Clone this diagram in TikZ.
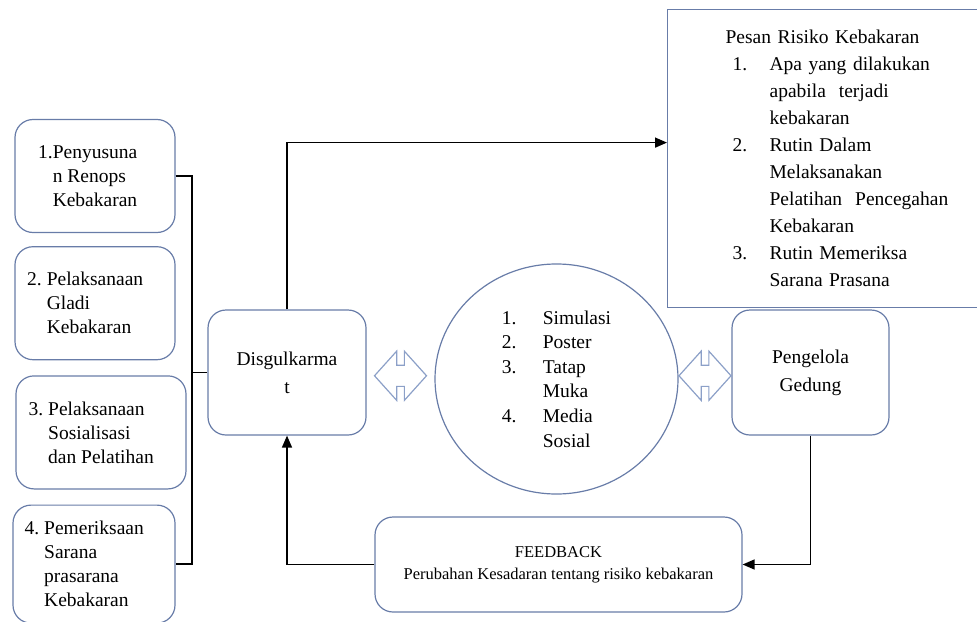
\documentclass[tikz,border=0pt]{standalone}
\usepackage{fontspec}
\setmainfont{Liberation Serif}
\usetikzlibrary{arrows.meta,positioning,calc,shapes.geometric,shapes.arrows}

\definecolor{garis}{RGB}{104,124,168}
\definecolor{panahbiru}{RGB}{140,160,200}
\newcommand{\teks}{\fontsize{19.5}{24}\selectfont}
\newcommand{\nomor}[2]{\makebox[#1][l]{#2}}

\begin{document}
\begin{tikzpicture}[x=1pt,y=-1pt,->,>={Triangle[length=12pt,width=10pt]},line width=1.5pt]
  \tikzstyle{langkah}=[draw=garis,line width=1.2pt,rounded corners=18pt,align=left,font=\teks,minimum width=160pt,minimum height=113pt]
  \tikzstyle{pelaku}=[langkah,align=center,font=\fontsize{19.5}{28}\selectfont,minimum width=158pt,minimum height=125pt]
  \tikzstyle{panah}=[double arrow,draw=panahbiru,fill=white,line width=1.2pt,minimum width=48pt,minimum height=52pt,double arrow head extend=14pt,double arrow tip angle=96,inner xsep=4.5pt,inner ysep=10pt]

  \useasboundingbox (0,0) rectangle (977,621);

  % langkah kegiatan
  \node[langkah] (b1) at (95,176) {\llap{1.}Penyusuna\\n Renops\\Kebakaran};
  \node[langkah] (b2) [below=13pt of b1] {\llap{2.\hspace{5pt}}Pelaksanaan\\Gladi\\Kebakaran};
  \node[langkah,minimum width=170pt] (b3) [below=15pt of b2,xshift=6pt] {\llap{3.\hspace{5pt}}Pelaksanaan\\Sosialisasi\\dan Pelatihan};
  \node[langkah,minimum width=162pt,minimum height=118pt] (b4) [below=15pt of b3,xshift=-7pt] {\llap{4.\hspace{5pt}}Pemeriksaan\\Sarana\\prasarana\\Kebakaran};

  \node[pelaku] (disgul) at (287,372.5) {Disgulkarma\\t};
  \node[pelaku,minimum width=157pt] (gedung) at (810.5,372.5) {Pengelola\\Gedung};

  \node[ellipse,draw=garis,line width=1.2pt,minimum width=243pt,minimum height=230pt,inner sep=0pt,align=left,font=\fontsize{19.5}{24.6}\selectfont] (media) at (556.5,379)
    {\nomor{41pt}{1.}Simulasi\\\nomor{41pt}{2.}Poster\\\nomor{41pt}{3.}Tatap\\\hspace*{41pt}Muka\\\nomor{41pt}{4.}Media\\\hspace*{41pt}Sosial};

  \node[draw=garis,line width=1.2pt,anchor=north west,minimum height=298pt,text width=260pt,inner xsep=58pt,align=left,font=\fontsize{19.5}{27}\selectfont] (pesan) at (667,9)
    {Pesan Risiko Kebakaran\\
     \hspace*{7pt}\nomor{37pt}{1.}Apa yang dilakukan\\
     \hspace*{44pt}apabila\ \ terjadi\\
     \hspace*{44pt}kebakaran\\
     \hspace*{7pt}\nomor{37pt}{2.}Rutin Dalam\\
     \hspace*{44pt}Melaksanakan\\
     \hspace*{44pt}Pelatihan\ \ Pencegahan\\
     \hspace*{44pt}Kebakaran\\
     \hspace*{7pt}\nomor{37pt}{3.}Rutin Memeriksa\\
     \hspace*{44pt}Sarana Prasana};

  \node[langkah,align=center,font=\fontsize{16.5}{22}\selectfont,minimum width=367pt,minimum height=95pt] (umpan) at (558.5,564.5)
    {FEEDBACK\\Perubahan Kesadaran tentang risiko kebakaran};

  \node[panah] (pa1) at ($(disgul.east)!0.5!(media.west)$) {};
  \node[panah] (pa2) at ($(media.east)!0.5!(gedung.west)$) {};

  \coordinate (kurung) at (192,372.5);

  \draw[-] (b1.east) -| (kurung) |- (b4.east);
  \draw[-] (kurung) -- (disgul.west);
  \draw (disgul.north) |- ([yshift=16pt]pesan.west);
  \draw (gedung.south) |- (umpan.east);
  \draw (umpan.west) -| (disgul.south);
\end{tikzpicture}
\end{document}
